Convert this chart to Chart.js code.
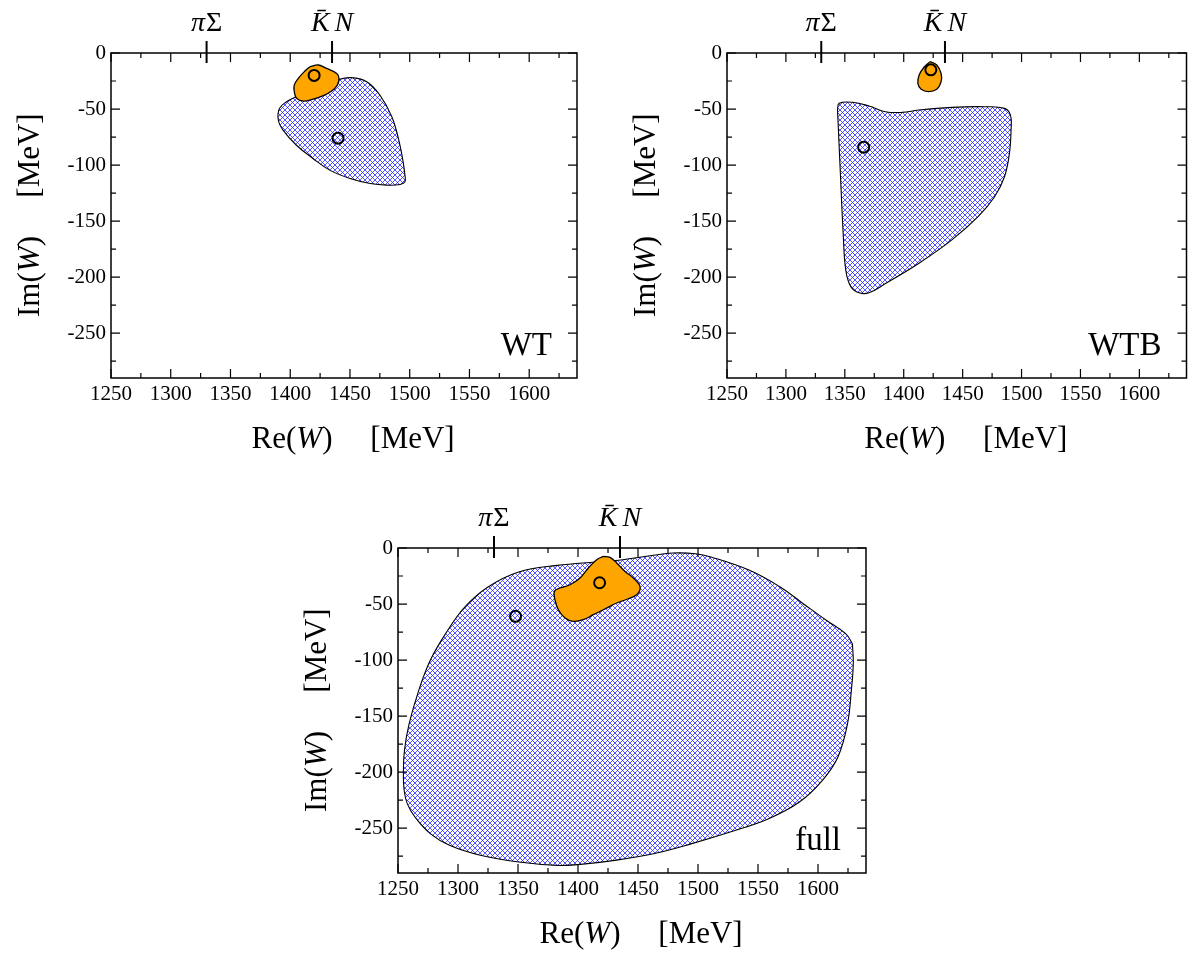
<!DOCTYPE html>
<html>
<head>
<meta charset="utf-8">
<script src="https://cdn.jsdelivr.net/npm/chart.js@4.4.1/dist/chart.umd.min.js"></script>
<style>
  html, body { margin: 0; padding: 0; background: #fff; }
  body { width: 1194px; height: 953px; position: relative; overflow: hidden; }
  canvas { position: absolute; }
</style>
</head>
<body>
<canvas id="wt" width="600" height="470" style="left:0px;top:0px"></canvas>
<canvas id="wtb" width="594" height="470" style="left:600px;top:0px"></canvas>
<canvas id="full" width="610" height="475" style="left:290px;top:478px"></canvas>
<script>
// ---- axes -------------------------------------------------------------
const reRange = [1250, 1640];
const imRange = [-290, 0];
const reTicks = [1250, 1300, 1350, 1400, 1450, 1500, 1550, 1600];
const reMinorTicks = [1275, 1325, 1375, 1425, 1475, 1525, 1575, 1625];
const imTicks = [0, -50, -100, -150, -200, -250];
const imMinorTicks = [-25, -75, -125, -175, -225, -275];

// two-body thresholds on the upper edge: pi Sigma and Kbar N
const thresholdRe = [1330, 1435];

// ---- WT ---------------------------------------------------------------
const wtBandRe = [1419, 1439, 1451, 1464, 1475, 1485, 1490.5, 1494, 1496, 1496, 1492, 1481, 1467, 1450, 1433, 1419, 1405, 1394, 1390, 1391, 1397, 1405];
const wtBandIm = [-31.6, -24.1, -22.0, -25.6, -37.5, -56.8, -76.2, -94.1, -108.9, -114.9, -117.3, -117.9, -116.4, -111.9, -104.5, -94.1, -82.1, -68.8, -59.8, -49.4, -43.5, -39.0];
const wtCoreRe = [1416.5, 1423.5, 1429.1, 1438.9, 1440.8, 1439.4, 1434.7, 1427.7, 1419.3, 1411.0, 1405.4, 1403.4, 1403.4, 1406.8, 1412.3];
const wtCoreIm = [-12.2, -10.7, -13.1, -18.2, -22.6, -28.6, -33.9, -38.1, -41.1, -42.9, -40.5, -34.5, -28.6, -22.6, -16.1];
const wtPoleRe = [1420, 1440];
const wtPoleIm = [-20, -76];

// ---- WTB --------------------------------------------------------------
const wtbBandRe = [1343.8, 1345.2, 1356.5, 1370.5, 1384.5, 1398.5, 1412.6, 1440.6, 1468.7, 1485.5, 1490.6, 1491.1, 1489.7, 1485.5, 1477.1, 1463.1, 1440.6, 1412.6, 1384.5, 1370.5, 1362.1, 1355.1, 1350.8, 1348.6, 1346.6, 1344.7];
const wtbBandIm = [-50.9, -44.9, -44.0, -47.3, -52.4, -53.0, -50.9, -48.5, -47.9, -49.4, -55.4, -68.7, -89.6, -110.4, -128.3, -146.1, -167.0, -187.8, -205.7, -214.0, -214.0, -208.6, -193.8, -161.0, -116.4, -71.7];
const wtbCoreRe = [1422.4, 1428.0, 1431.7, 1431.7, 1428.0, 1421.0, 1414.8, 1412.0, 1413.1, 1417.6];
const wtbCoreIm = [-7.7, -10.7, -18.2, -25.6, -32.4, -34.5, -32.4, -27.1, -19.6, -12.2];
const wtbPoleRe = [1423, 1366];
const wtbPoleIm = [-15, -84];

// ---- full -------------------------------------------------------------
const fullBandRe = [1628.7, 1623.0, 1606.9, 1587.7, 1568.5, 1542.9, 1510.8, 1498.0, 1478.8, 1462.8, 1433.9, 1414.7, 1382.7, 1350.6, 1325.0, 1305.8, 1289.7, 1276.9, 1267.3, 1259.3, 1255.4, 1254.5, 1255.1, 1257.7, 1264.1, 1276.9, 1292.9, 1318.6, 1350.6, 1382.7, 1401.9, 1430.7, 1462.8, 1494.8, 1526.8, 1558.9, 1584.5, 1603.7, 1616.6, 1624.6, 1627.8, 1629.4];
const fullBandIm = [-85.4, -76.4, -64.5, -49.7, -34.8, -19.9, -8.0, -5.1, -4.5, -6.5, -11.0, -12.5, -15.5, -21.4, -34.8, -52.6, -76.4, -100.2, -127.0, -156.8, -180.5, -201.4, -216.2, -228.1, -240.0, -254.9, -265.3, -274.2, -280.2, -283.2, -282.3, -278.7, -272.8, -263.8, -253.4, -241.5, -226.7, -207.3, -186.5, -156.8, -127.0, -103.2];
const fullCoreRe = [1421.1, 1426.7, 1432.2, 1439.2, 1446.1, 1451.1, 1451.7, 1448.9, 1441.9, 1432.2, 1421.1, 1412.8, 1404.4, 1396.1, 1389.2, 1383.6, 1380.8, 1380.3, 1385.0, 1393.3, 1401.7, 1408.6, 1415.6];
const fullCoreIm = [-7.5, -8.4, -13.4, -20.9, -26.8, -32.8, -37.2, -41.7, -45.3, -49.1, -55.1, -59.5, -64.0, -65.5, -62.5, -55.1, -46.2, -38.7, -35.7, -32.8, -26.8, -17.9, -10.4];
const fullPoleRe = [1418, 1348];
const fullPoleIm = [-31, -61];

// ---- helpers ----------------------------------------------------------
const SERIF = "'Liberation Serif', 'DejaVu Serif', serif";

function toPoints(re, im) {
  return re.map((x, i) => ({ x, y: im[i] }));
}
function closedRing(re, im) {
  const pts = toPoints(re, im);
  pts.push({ x: pts[0].x, y: pts[0].y });
  return pts;
}

// blue cross-hatch used for the band regions
function crossHatch() {
  const c = document.createElement('canvas');
  c.width = 10; c.height = 10;
  const g = c.getContext('2d');
  g.strokeStyle = 'rgba(30,30,255,0.8)';
  g.lineWidth = 0.95;
  g.beginPath();
  for (let k = -2; k <= 2; k++) {
    const o = k * 5;
    g.moveTo(o, 0); g.lineTo(o + 10, 10);
    g.moveTo(o, 10); g.lineTo(o + 10, 0);
  }
  g.stroke();
  return g.createPattern(c, 'repeat');
}

// draw a row of text runs (some italic) centred on cx
function drawRuns(ctx, runs, cx, base, size) {
  let total = 0;
  runs.forEach(r => {
    ctx.font = (r.italic ? 'italic ' : '') + size + 'px ' + SERIF;
    r.w = ctx.measureText(r.t).width;
    total += r.w + (r.gap || 0);
  });
  let xx = cx - total / 2;
  ctx.textAlign = 'left';
  ctx.textBaseline = 'alphabetic';
  runs.forEach(r => {
    xx += (r.gap || 0);
    ctx.font = (r.italic ? 'italic ' : '') + size + 'px ' + SERIF;
    ctx.fillText(r.t, xx, base);
    xx += r.w;
  });
}

const reTitle = [{ t: 'Re(' }, { t: 'W', italic: true }, { t: ')' }];
const imTitle = [{ t: 'Im(' }, { t: 'W', italic: true }, { t: ')' }];
const unitTitle = [{ t: '[MeV]' }];
const piSigmaLabel = [{ t: 'π', italic: true }, { t: 'Σ', gap: 1 }];
const kbarNLabel = [{ t: 'K\u0304', italic: true }, { t: 'N', italic: true, gap: 5 }];
const thresholdLabels = [piSigmaLabel, kbarNLabel];

// frame, inward ticks, threshold markers, titles and panel name
const panelDecor = {
  id: 'panelDecor',
  afterDatasetsDraw(chart, args, opts) {
    const { ctx, chartArea: a, scales: { x, y } } = chart;
    ctx.save();
    ctx.strokeStyle = '#000';
    ctx.fillStyle = '#000';

    ctx.lineWidth = 1.5;
    ctx.strokeRect(a.left, a.top, a.right - a.left, a.bottom - a.top);

    ctx.lineWidth = 1.2;
    ctx.beginPath();
    const xTicks = (vals, len) => vals.forEach(v => {
      const p = x.getPixelForValue(v);
      ctx.moveTo(p, a.bottom); ctx.lineTo(p, a.bottom - len);
      ctx.moveTo(p, a.top); ctx.lineTo(p, a.top + len);
    });
    const yTicks = (vals, len) => vals.forEach(v => {
      const p = y.getPixelForValue(v);
      ctx.moveTo(a.left, p); ctx.lineTo(a.left + len, p);
      ctx.moveTo(a.right, p); ctx.lineTo(a.right - len, p);
    });
    xTicks(reTicks, 9); xTicks(reMinorTicks, 5);
    yTicks(imTicks, 9); yTicks(imMinorTicks, 5);
    ctx.stroke();

    // thresholds
    ctx.lineWidth = 2;
    ctx.beginPath();
    thresholdRe.forEach(v => {
      const p = x.getPixelForValue(v);
      ctx.moveTo(p, a.top - 12); ctx.lineTo(p, a.top + 10);
    });
    ctx.stroke();
    thresholdRe.forEach((v, i) => {
      drawRuns(ctx, thresholdLabels[i], x.getPixelForValue(v), a.top - 22, 28);
    });

    // axis titles
    const cx = (a.left + a.right) / 2;
    const cy = (a.top + a.bottom) / 2;
    drawRuns(ctx, reTitle, cx - 52, a.bottom + 70, 31);
    drawRuns(ctx, unitTitle, cx + 68.5, a.bottom + 70, 31);
    ctx.save();
    ctx.translate(a.left - 72, cy);
    ctx.rotate(-Math.PI / 2);
    drawRuns(ctx, imTitle, -61, 0, 31);
    drawRuns(ctx, unitTitle, 60, 0, 31);
    ctx.restore();

    // panel name
    ctx.font = '33px ' + SERIF;
    ctx.textAlign = 'right';
    ctx.textBaseline = 'alphabetic';
    ctx.fillText(opts.name, a.right - 25, a.bottom - 23);
    ctx.restore();
  }
};

function makePanel(id, name, band, core, poles, pad) {
  return new Chart(document.getElementById(id), {
    type: 'scatter',
    data: {
      datasets: [
        { data: poles, showLine: false, pointRadius: 5.5, pointBorderWidth: 2,
          pointBorderColor: '#000', pointBackgroundColor: 'rgba(0,0,0,0)', order: 0 },
        { data: core, showLine: true, fill: 'shape', backgroundColor: '#ffa500',
          borderColor: '#000', borderWidth: 1.3, tension: 0.4, pointRadius: 0, order: 1 },
        { data: band, showLine: true, fill: 'shape', backgroundColor: crossHatch(),
          borderColor: '#000', borderWidth: 1.1, tension: 0.4, pointRadius: 0, order: 2 }
      ]
    },
    options: {
      responsive: false,
      animation: false,
      devicePixelRatio: 1,
      events: [],
      layout: { padding: pad },
      plugins: { legend: { display: false }, tooltip: { enabled: false }, panelDecor: { name } },
      scales: {
        x: {
          type: 'linear', position: 'bottom', min: reRange[0], max: reRange[1],
          afterBuildTicks: s => { s.ticks = reTicks.map(v => ({ value: v })); },
          afterFit: s => { s.height = 35; s.paddingLeft = 0; s.paddingRight = 0; },
          ticks: { font: { family: SERIF, size: 21 }, color: '#000', padding: 4,
                   maxRotation: 0, autoSkip: false, callback: v => String(v) },
          grid: { display: false, drawTicks: false },
          border: { display: false }
        },
        y: {
          type: 'linear', position: 'left', min: imRange[0], max: imRange[1],
          afterBuildTicks: s => { s.ticks = imTicks.map(v => ({ value: v })); },
          afterFit: s => { s.width = 45; s.paddingTop = 0; s.paddingBottom = 0; },
          ticks: { font: { family: SERIF, size: 21 }, color: '#000', padding: 5,
                   autoSkip: false, callback: v => String(v) },
          grid: { display: false, drawTicks: false },
          border: { display: false }
        }
      }
    },
    plugins: [panelDecor]
  });
}

makePanel('wt', 'WT',
  closedRing(wtBandRe, wtBandIm), closedRing(wtCoreRe, wtCoreIm), toPoints(wtPoleRe, wtPoleIm),
  { left: 66, right: 23, top: 53, bottom: 57 });
makePanel('wtb', 'WTB',
  closedRing(wtbBandRe, wtbBandIm), closedRing(wtbCoreRe, wtbCoreIm), toPoints(wtbPoleRe, wtbPoleIm),
  { left: 82, right: 4, top: 53, bottom: 57 });
makePanel('full', 'full',
  closedRing(fullBandRe, fullBandIm), closedRing(fullCoreRe, fullCoreIm), toPoints(fullPoleRe, fullPoleIm),
  { left: 63, right: 34, top: 70, bottom: 45 });
</script>
</body>
</html>
